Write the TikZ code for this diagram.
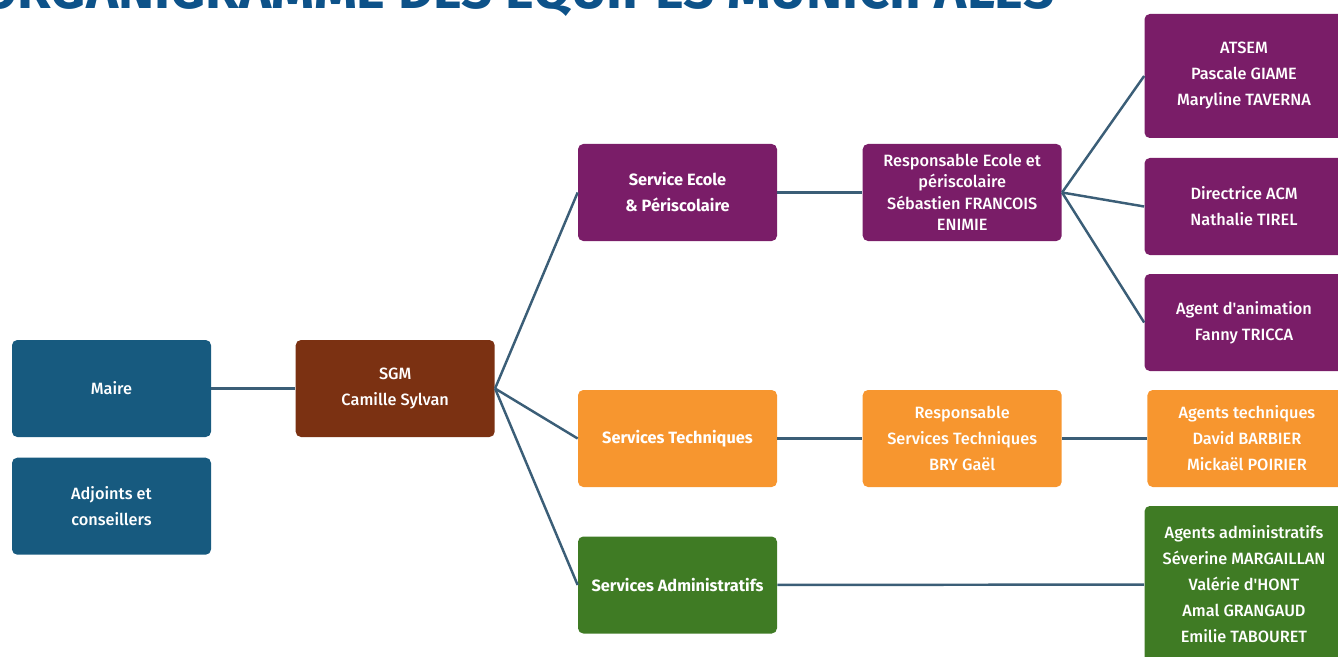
\documentclass[tikz,border=0pt]{standalone}
\usepackage{fontspec}
\setmainfont{Fira Sans}[UprightFont={Fira Sans Medium}, BoldFont={Fira Sans Bold}]
\usetikzlibrary{positioning}

\definecolor{mairebleu}{HTML}{175A7F}
\definecolor{sgmbrun}{HTML}{7B3112}
\definecolor{ecoleviolet}{HTML}{7A1D68}
\definecolor{techorange}{HTML}{F7962F}
\definecolor{adminvert}{HTML}{3F7B24}
\definecolor{lienbleu}{HTML}{3B5E77}
\definecolor{titrebleu}{HTML}{0D5289}

\tikzset{
  boite/.style={rounded corners=3pt, minimum width=3.98cm, minimum height=1.94cm,
    align=center, text=white, inner sep=2pt,
    font=\fontsize{9.3}{14.8}\selectfont},
  chef/.style={boite, font=\bfseries\fontsize{9.3}{14.8}\selectfont},
  lien/.style={draw=lienbleu, line width=1.4pt}
}

\begin{document}
\begin{tikzpicture}
  \useasboundingbox (0,0) rectangle (26.76,-13.14);

  % titre (coupe en haut de l'image)
  \node[anchor=base west, inner sep=0pt, text=titrebleu,
        font=\bfseries\fontsize{31}{34}\selectfont] (titre) at (-0.4,-0.17)
        {ORGANIGRAMME DES EQUIPES MUNICIPALES};

  \node (maire)    [boite, fill=mairebleu] at (2.23,-7.77) {Maire};
  \node (adjoints) [boite, fill=mairebleu, below=0.4cm of maire] {Adjoints et\\conseillers};
  \node (sgm)      [boite, fill=sgmbrun, right=1.68cm of maire] {SGM\\Camille Sylvan};

  \node (ecole) [chef, fill=ecoleviolet] at (13.55,-3.85) {Service Ecole\\\& Périscolaire};
  \node (tech)  [chef, fill=techorange]  at (13.55,-8.77) {Services Techniques};
  \node (admin) [chef, fill=adminvert]   at (13.55,-11.70) {Services Administratifs};

  \node (respecole) [boite, fill=ecoleviolet, right=1.70cm of ecole,
                     font=\fontsize{9.3}{12.2}\selectfont]
        {Responsable Ecole et\\périscolaire\\Sébastien FRANCOIS\\ENIMIE};
  \node (respst)    [boite, fill=techorange, right=1.70cm of tech]
        {Responsable\\Services Techniques\\BRY Gaël};

  \node (atsem)      [boite, fill=ecoleviolet, minimum height=2.48cm] at (24.88,-1.52)
        {ATSEM\\Pascale GIAME\\Maryline TAVERNA};
  \node (directrice) [boite, fill=ecoleviolet] at (24.88,-4.13) {Directrice ACM\\Nathalie TIREL};
  \node (animation)  [boite, fill=ecoleviolet] at (24.88,-6.45)
        {Agent d\textquotesingle animation\\Fanny TRICCA};
  \node (agtech)     [boite, fill=techorange, right=1.70cm of respst]
        {Agents techniques\\David BARBIER\\Mickaël POIRIER};
  \node (agadmin)    [boite, fill=adminvert, minimum height=3.14cm] at (24.88,-11.69)
        {Agents administratifs\\Séverine MARGAILLAN\\Valérie d\textquotesingle HONT\\Amal GRANGAUD\\Emilie TABOURET};

  \path[lien]
    (maire)      edge (sgm)
    (sgm.east)   edge (ecole.west)
    (sgm.east)   edge (tech.west)
    (sgm.east)   edge (admin.west)
    (ecole)      edge (respecole)
    (respecole.east) edge (atsem.west)
    (respecole.east) edge (directrice.west)
    (respecole.east) edge (animation.west)
    (tech)       edge (respst)
    (respst)     edge (agtech)
    (admin)      edge (agadmin);
\end{tikzpicture}
\end{document}
